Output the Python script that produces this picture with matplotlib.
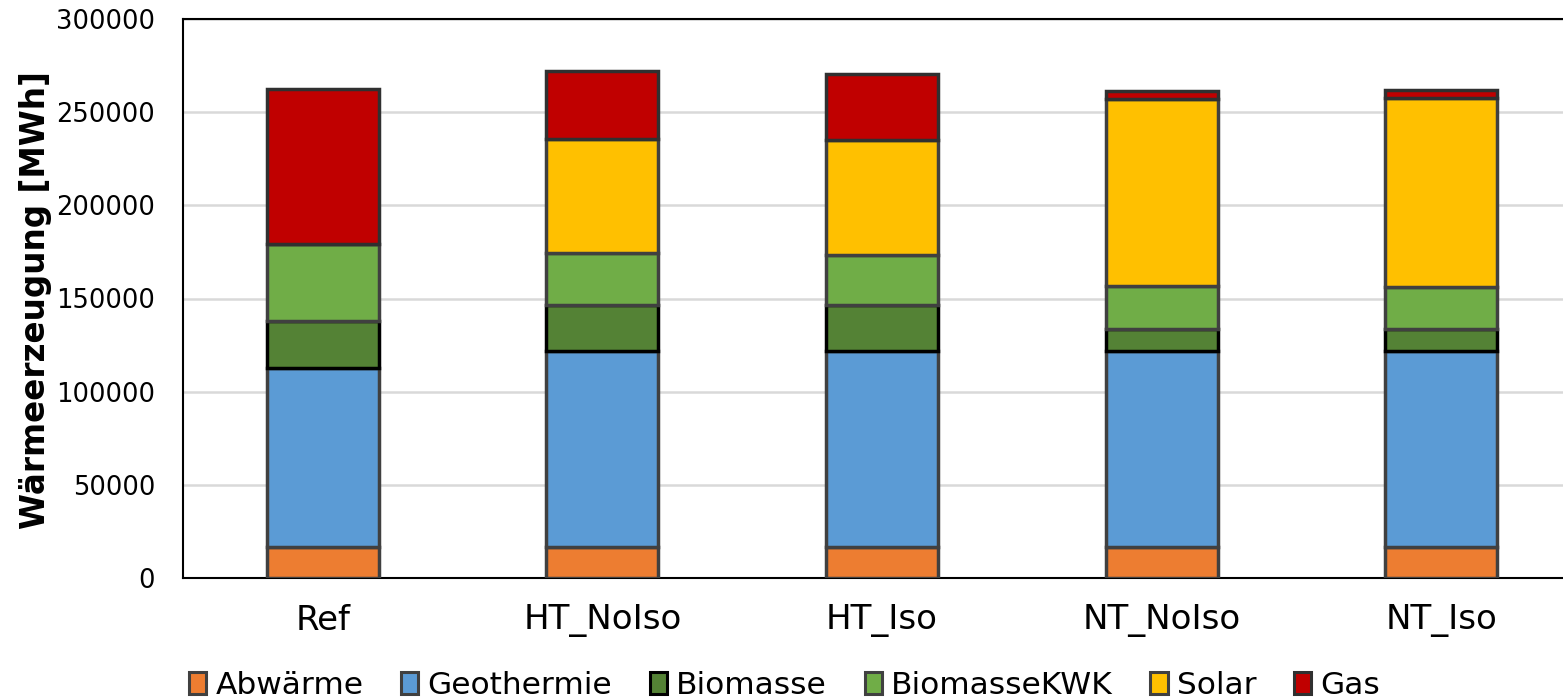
import numpy as np
import matplotlib.pyplot as plt
from matplotlib.patches import Patch

categories = ["Ref", "HT_NoIso", "HT_Iso", "NT_NoIso", "NT_Iso"]
series = ["Abwärme", "Geothermie", "Biomasse", "BiomasseKWK", "Solar", "Gas"]

abwaerme = [16500, 16500, 16500, 16500, 16500]
geothermie = [96200, 105200, 105200, 105100, 105100]
biomasse = [25300, 25000, 25000, 12100, 12100]
biomasse_kwk = [41000, 27800, 26800, 23000, 22400]
solar = [0, 60900, 61800, 100600, 101600]
gas = [83200, 36900, 35300, 4300, 4000]

values = [abwaerme, geothermie, biomasse, biomasse_kwk, solar, gas]
colors = ["#ED7D31", "#5B9BD5", "#548235", "#70AD47", "#FFC000", "#C00000"]
edges = ["#404040", "#404040", "#000000", "#404040", "#404040", "#303030"]

fig = plt.figure(figsize=(15.63, 6.99), dpi=100)
ax = fig.add_axes([183 / 1563, 121 / 699, (1581 - 183) / 1563, 559 / 699])

x = np.arange(len(categories))
bottom = np.zeros(len(categories))
for vals, col, ec in zip(values, colors, edges):
    vals = np.array(vals, dtype=float)
    ax.bar(x, vals, 0.4, bottom=bottom, color=col, edgecolor=ec,
           linewidth=2.5, zorder=3)
    bottom += vals

ax.set_xlim(-0.5, 4.5)
ax.set_ylim(0, 300000)
ax.set_yticks(np.arange(0, 300001, 50000))
ax.set_xticks(x)
ax.set_xticklabels(categories, fontsize=24.5)
ax.tick_params(axis="y", labelsize=18.5, length=0, pad=20)
ax.tick_params(axis="x", length=0, pad=19)
ax.grid(axis="y", color="#d9d9d9", linewidth=1.8, zorder=0)
for s in ["left", "top", "bottom", "right"]:
    ax.spines[s].set_color("black")
    ax.spines[s].set_linewidth(1.5)

ax.set_ylabel("Wärmeerzeugung [MWh]", fontsize=23.5, fontweight="bold")
ax.yaxis.set_label_coords(-0.094, 0.497)

handles = [Patch(facecolor=c, edgecolor=e, linewidth=2.2) for c, e in zip(colors, edges)]
fig.legend(handles, series, loc="center", bbox_to_anchor=(0.502, 0.02), ncol=6,
           frameon=False, fontsize=22.5, handlelength=0.55, handleheight=0.7,
           handletextpad=0.3, columnspacing=1.2)

fig.savefig("out.png", dpi=100)
